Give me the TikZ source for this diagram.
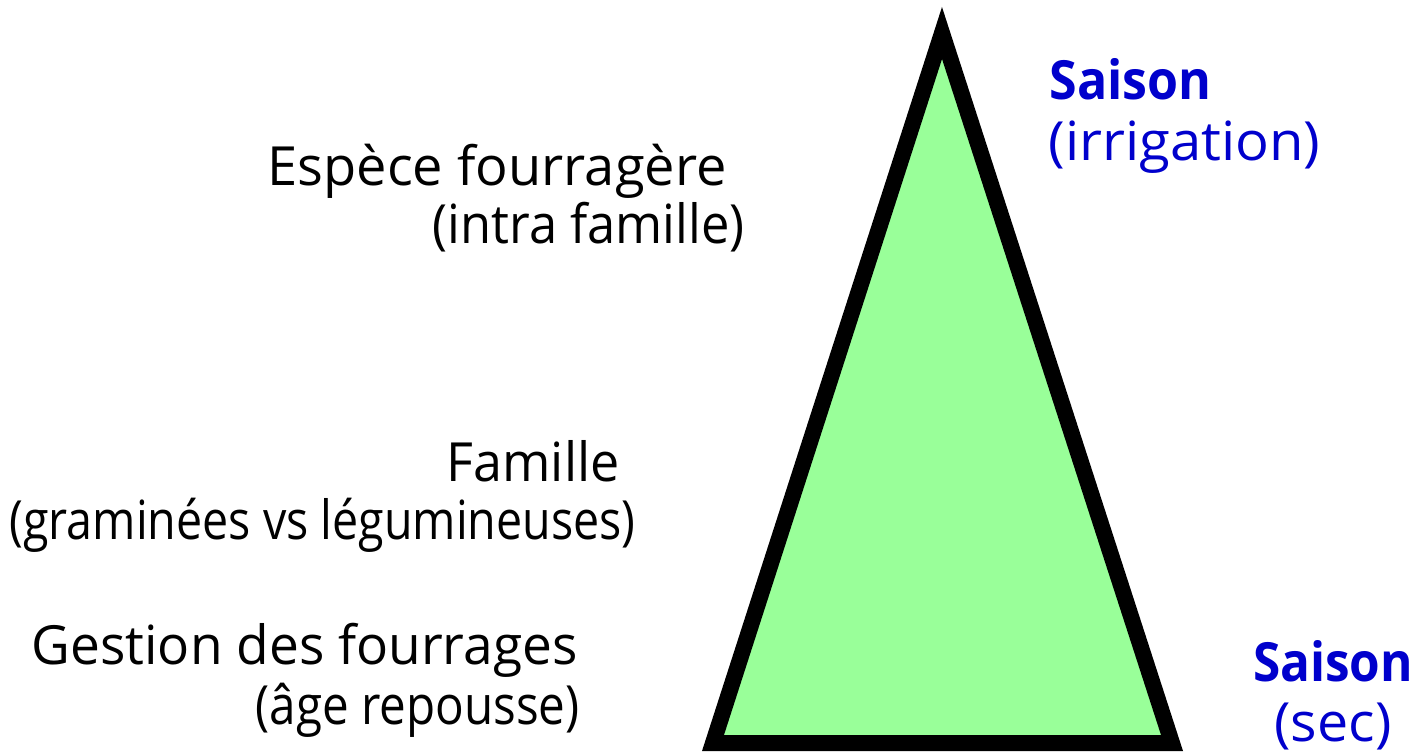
\documentclass[tikz,border=0pt]{standalone}
\usepackage{fontspec}
\usepackage{graphicx}
\setmainfont{Open Sans}
\definecolor{leaf}{HTML}{99FF99}
\definecolor{season}{HTML}{0000CC}
% set a line of text to a given width (in pt) by horizontal scaling only
\newsavebox\fitbox
\newcommand\fitto[2]{\sbox\fitbox{#2}\pgfmathsetmacro\fitratio{#1/\wd\fitbox}\scalebox{\fitratio}[1]{\usebox\fitbox}}
\begin{document}
\begin{tikzpicture}[x=0.5pt,y=-0.5pt,
  lbl/.style={inner sep=0pt, font=\fontsize{27}{31}\selectfont},
  seasonlbl/.style={lbl, text=season},
  seasonhead/.style={seasonlbl, font=\fontsize{27}{31}\selectfont\bfseries}]
\useasboundingbox (0,0) rectangle (1425,753);

% the pyramid
\coordinate (apex) at (942,33);
\coordinate (bl) at (713,743);
\coordinate (br) at (1172,743);
\draw[line width=8pt, line join=miter, fill=leaf] (apex) -- (bl) -- (br) -- cycle;

% factors on the left
\node[lbl, anchor=base east] (espece) at (727,186) {\fitto{229.5}{Espèce fourragère}};
\node[lbl, anchor=base east] (intra) at (745,244) {\fitto{156}{(intra famille)}};
\node[lbl, anchor=base east] (famille) at (620,482) {\fitto{86.5}{Famille}};
\node[lbl, anchor=base east] (gram) at (636,539) {\fitto{313}{(graminées vs légumineuses)}};
\node[lbl, anchor=base east] (gestion) at (578,664) {\fitto{273}{Gestion des fourrages}};
\node[lbl, anchor=base east] (age) at (580,724) {\fitto{162}{(âge repousse)}};

% seasons on the right
\node[seasonhead, anchor=base west] (saisonA) at (1049,100) {\fitto{81}{Saison}};
\node[seasonlbl, anchor=base west] (irrig) at (1048,161) {\fitto{136}{(irrigation)}};
\node[seasonhead, anchor=base] (saisonB) at (1333,681) {\fitto{80}{Saison}};
\node[seasonlbl, anchor=base] (sec) at (1333,741) {\fitto{58.5}{(sec)}};
\end{tikzpicture}
\end{document}
